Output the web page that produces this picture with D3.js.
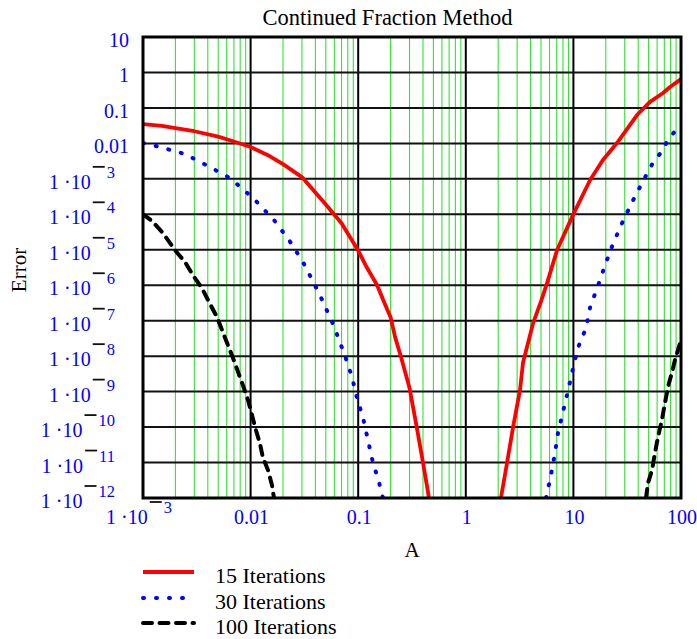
<!DOCTYPE html>
<html>
<head>
<meta charset="utf-8">
<script src="https://cdn.jsdelivr.net/npm/d3@7"></script>
<style>
  html, body { margin: 0; padding: 0; background: #fff; }
  svg { display: block; }
  text { font-family: "Liberation Serif", "Times New Roman", serif; }
</style>
</head>
<body>
<svg id="chart" width="697" height="639"></svg>
<script>
// Error of the continued fraction evaluation vs. argument A
// (points are [A, error]; null separates the two branches that leave the plot below 1e-12)
const iter15 = [
  [0.001, 0.035], [0.0015, 0.031], [0.002, 0.027], [0.003, 0.022], [0.005, 0.0155],
  [0.007, 0.0113], [0.01, 0.0079], [0.015, 0.0044], [0.02, 0.0026], [0.03, 0.00112],
  [0.04, 4.1e-4], [0.05, 1.9e-4], [0.07, 5.6e-5], [0.1, 9.5e-6], [0.12, 3.2e-6], [0.15, 1e-6],
  [0.175, 3.2e-7], [0.2, 1.26e-7], [0.22, 3.5e-8], [0.25, 9.5e-9], [0.3, 1.26e-9],
  [0.35, 1e-10], [0.4, 1e-11], [0.455, 1e-12],
  null,
  [2.12, 1e-12], [2.42, 1e-11], [2.75, 1e-10], [3.19, 1.1e-9], [3.4, 6.5e-9],
  [4.22, 8.5e-8], [5.0, 3.5e-7], [5.69, 1.15e-6], [7.05, 9.8e-6], [9.9, 9.5e-5], [14.3, 9.3e-4],
  [18.8, 3.4e-3], [25.4, 0.0102], [39, 0.063], [51.5, 0.148], [68.1, 0.263],
  [79, 0.39], [100, 0.65]
];
const iter30 = [
  [0.001, 0.0102], [0.00144, 0.0079], [0.00246, 0.005], [0.00402, 0.0023], [0.00644, 0.00105],
  [0.0105, 2.9e-4], [0.0165, 6.9e-5], [0.0227, 1.9e-5], [0.0307, 4.5e-6], [0.0432, 6e-7],
  [0.0583, 8.1e-8], [0.0754, 1.02e-8], [0.0875, 2.6e-9], [0.0975, 6.6e-10], [0.111, 1.8e-10],
  [0.123, 4.4e-11], [0.137, 1e-11], [0.156, 2.8e-12], [0.17, 1e-12],
  null,
  [5.56, 1e-12], [6.19, 4.4e-12], [6.75, 1.9e-11], [7.19, 6.8e-11], [8.0, 2.7e-10],
  [8.9, 1.05e-9], [9.9, 4.4e-9], [11.0, 1.7e-8], [13.1, 6.2e-8], [14.3, 2.4e-7],
  [16.9, 9.5e-7], [19.7, 3.7e-6], [23.3, 1.45e-5], [28.3, 5.6e-5], [35.1, 2.2e-4],
  [44.4, 8.7e-4], [56.1, 3.2e-3], [68.1, 6.5e-3], [75.7, 0.0132], [93.8, 0.027], [100, 0.031]
];
const iter100 = [
  [0.001, 1e-4], [0.00121, 6.5e-5], [0.00153, 3e-5], [0.00198, 9.8e-6], [0.00246, 4.5e-6],
  [0.00292, 1.9e-6], [0.00353, 8.3e-7], [0.00402, 3.8e-7], [0.00487, 1.26e-7], [0.00542, 5.5e-8],
  [0.00617, 2e-8], [0.00686, 8.9e-9], [0.00764, 3.6e-9], [0.00849, 1.5e-9], [0.00946, 5.8e-10],
  [0.0103, 2.2e-10], [0.0112, 8.3e-11], [0.0122, 3.5e-11], [0.013, 1.4e-11], [0.0145, 6.2e-12],
  [0.0158, 2.3e-12], [0.0165, 1e-12],
  null,
  [47.3, 1e-12], [49.3, 2.6e-12], [53.8, 6.2e-12], [57.3, 1.9e-11], [61.1, 5.2e-11],
  [66.5, 1.6e-10], [71, 4.8e-10], [75.7, 1.35e-9], [82.4, 3.5e-9], [87.9, 7.8e-9],
  [93.8, 1.5e-8], [100, 2.8e-8]
];

const seriesNames = ["15 Iterations", "30 Iterations", "100 Iterations"];

const xTicks = [1e-3, 1e-2, 1e-1, 1, 10, 100];
const xTickLabels = ["1 ·10^3", "0.01", "0.1", "1", "10", "100"];
const yTicks = [10, 1, 0.1, 0.01, 1e-3, 1e-4, 1e-5, 1e-6, 1e-7, 1e-8, 1e-9, 1e-10, 1e-11, 1e-12];
const yTickLabels = ["10", "1", "0.1", "0.01", "1 ·10^3", "1 ·10^4", "1 ·10^5", "1 ·10^6",
  "1 ·10^7", "1 ·10^8", "1 ·10^9", "1 ·10^10", "1 ·10^11", "1 ·10^12"];

const titleText = "Continued Fraction Method";
const xTitle = "A";
const yTitle = "Error";

// ---- layout ----
const plot = { left: 143, top: 37, right: 681, bottom: 498 };
const svg = d3.select("#chart");
const x = d3.scaleLog().domain([1e-3, 100]).range([plot.left, plot.right]);
const y = d3.scaleLog().domain([1e-12, 10]).range([plot.bottom, plot.top]);
const labelBlue = "#0000ff";

svg.append("rect").attr("width", 697).attr("height", 639).attr("fill", "#fff");

// minor vertical grid (2..9 in each decade)
const minor = [];
for (let k = -3; k < 2; k++) for (let m = 2; m <= 9; m++) minor.push(m * Math.pow(10, k));
svg.append("g").selectAll("line").data(minor).join("line")
  .attr("x1", d => x(d)).attr("x2", d => x(d))
  .attr("y1", plot.top).attr("y2", plot.bottom)
  .attr("stroke", "#2ee62e").attr("stroke-width", 1.1);

// major grid
svg.append("g").selectAll("line").data(xTicks.slice(1, -1)).join("line")
  .attr("x1", d => x(d)).attr("x2", d => x(d))
  .attr("y1", plot.top).attr("y2", plot.bottom)
  .attr("stroke", "#000").attr("stroke-width", 2);
svg.append("g").selectAll("line").data(yTicks.slice(1, -1)).join("line")
  .attr("x1", plot.left).attr("x2", plot.right)
  .attr("y1", d => y(d)).attr("y2", d => y(d))
  .attr("stroke", "#111").attr("stroke-width", 2);

// curves
svg.append("clipPath").attr("id", "plotClip").append("rect")
  .attr("x", plot.left).attr("y", plot.top)
  .attr("width", plot.right - plot.left).attr("height", plot.bottom - plot.top);

const line = d3.line().defined(d => d !== null).x(d => x(d[0])).y(d => y(d[1]));
const styles = [
  { data: iter15, color: "#ff0000", width: 3.8, dash: null, cap: "round" },
  { data: iter30, color: "#0000ff", width: 4, dash: "1 12", cap: "round" },
  { data: iter100, color: "#000000", width: 4, dash: "9 7.5", cap: "round" }
];
const curves = svg.append("g").attr("clip-path", "url(#plotClip)");
styles.forEach(s => {
  curves.append("path").datum(s.data)
    .attr("d", line)
    .attr("fill", "none")
    .attr("stroke", s.color)
    .attr("stroke-width", s.width)
    .attr("stroke-linecap", s.cap)
    .attr("stroke-linejoin", "round")
    .attr("stroke-dasharray", s.dash);
});

// frame
svg.append("rect")
  .attr("x", plot.left).attr("y", plot.top)
  .attr("width", plot.right - plot.left).attr("height", plot.bottom - plot.top)
  .attr("fill", "none").attr("stroke", "#000").attr("stroke-width", 3);

// tick label with negative power of ten: base, raised bar, raised digits
function powerLabel(g, label, baseline, expEnd) {
  const [base, exp] = label.split("^");
  const e = g.append("text")
    .attr("x", expEnd).attr("y", baseline - 11)
    .attr("text-anchor", "end").attr("font-size", 16.5).attr("fill", labelBlue)
    .text(exp);
  const w = e.node().getComputedTextLength();
  const expStart = expEnd - w;
  g.append("line")
    .attr("x1", expStart - 14).attr("x2", expStart - 2)
    .attr("y1", baseline - 22).attr("y2", baseline - 22)
    .attr("stroke", "#111").attr("stroke-width", 1.8);
  g.append("text")
    .attr("x", expStart - 16).attr("y", baseline)
    .attr("text-anchor", "end").attr("font-size", 20).attr("fill", labelBlue)
    .text(base);
}

// y tick labels
const yLab = svg.append("g");
yTicks.forEach((v, i) => {
  const lab = yTickLabels[i];
  const b = y(v) + 10;
  if (lab.includes("^")) {
    powerLabel(yLab, lab, b, 115);
  } else {
    yLab.append("text").attr("x", 129).attr("y", b)
      .attr("text-anchor", "end").attr("font-size", 20).attr("fill", labelBlue).text(lab);
  }
});

// x tick labels
const xLab = svg.append("g");
xTicks.forEach((v, i) => {
  const lab = xTickLabels[i];
  const b = 524;
  if (lab.includes("^")) {
    powerLabel(xLab, lab, b, x(v) + 29);
  } else {
    xLab.append("text").attr("x", x(v) + 1).attr("y", b)
      .attr("text-anchor", "middle").attr("font-size", 20).attr("fill", labelBlue).text(lab);
  }
});

// titles
svg.append("text").attr("x", 387.5).attr("y", 25).attr("text-anchor", "middle")
  .attr("font-size", 22.5).attr("fill", "#000").text(titleText);
svg.append("text").attr("x", 412).attr("y", 557).attr("text-anchor", "middle")
  .attr("font-size", 21).attr("fill", "#000").text(xTitle);
svg.append("text").attr("transform", "translate(26,270) rotate(-90)")
  .attr("text-anchor", "middle").attr("font-size", 21).attr("fill", "#000").text(yTitle);

// legend
const legendY = [572, 598, 623];
const legend = svg.append("g");
styles.forEach((s, i) => {
  legend.append("line")
    .attr("x1", 143).attr("x2", 194).attr("y1", legendY[i]).attr("y2", legendY[i])
    .attr("stroke", s.color).attr("stroke-width", s.width)
    .attr("stroke-linecap", s.dash ? "round" : "butt")
    .attr("stroke-dasharray", s.dash);
  legend.append("text").attr("x", 215).attr("y", legendY[i] + 11)
    .attr("font-size", 22).attr("fill", "#000").text(seriesNames[i]);
});
</script>
</body>
</html>
